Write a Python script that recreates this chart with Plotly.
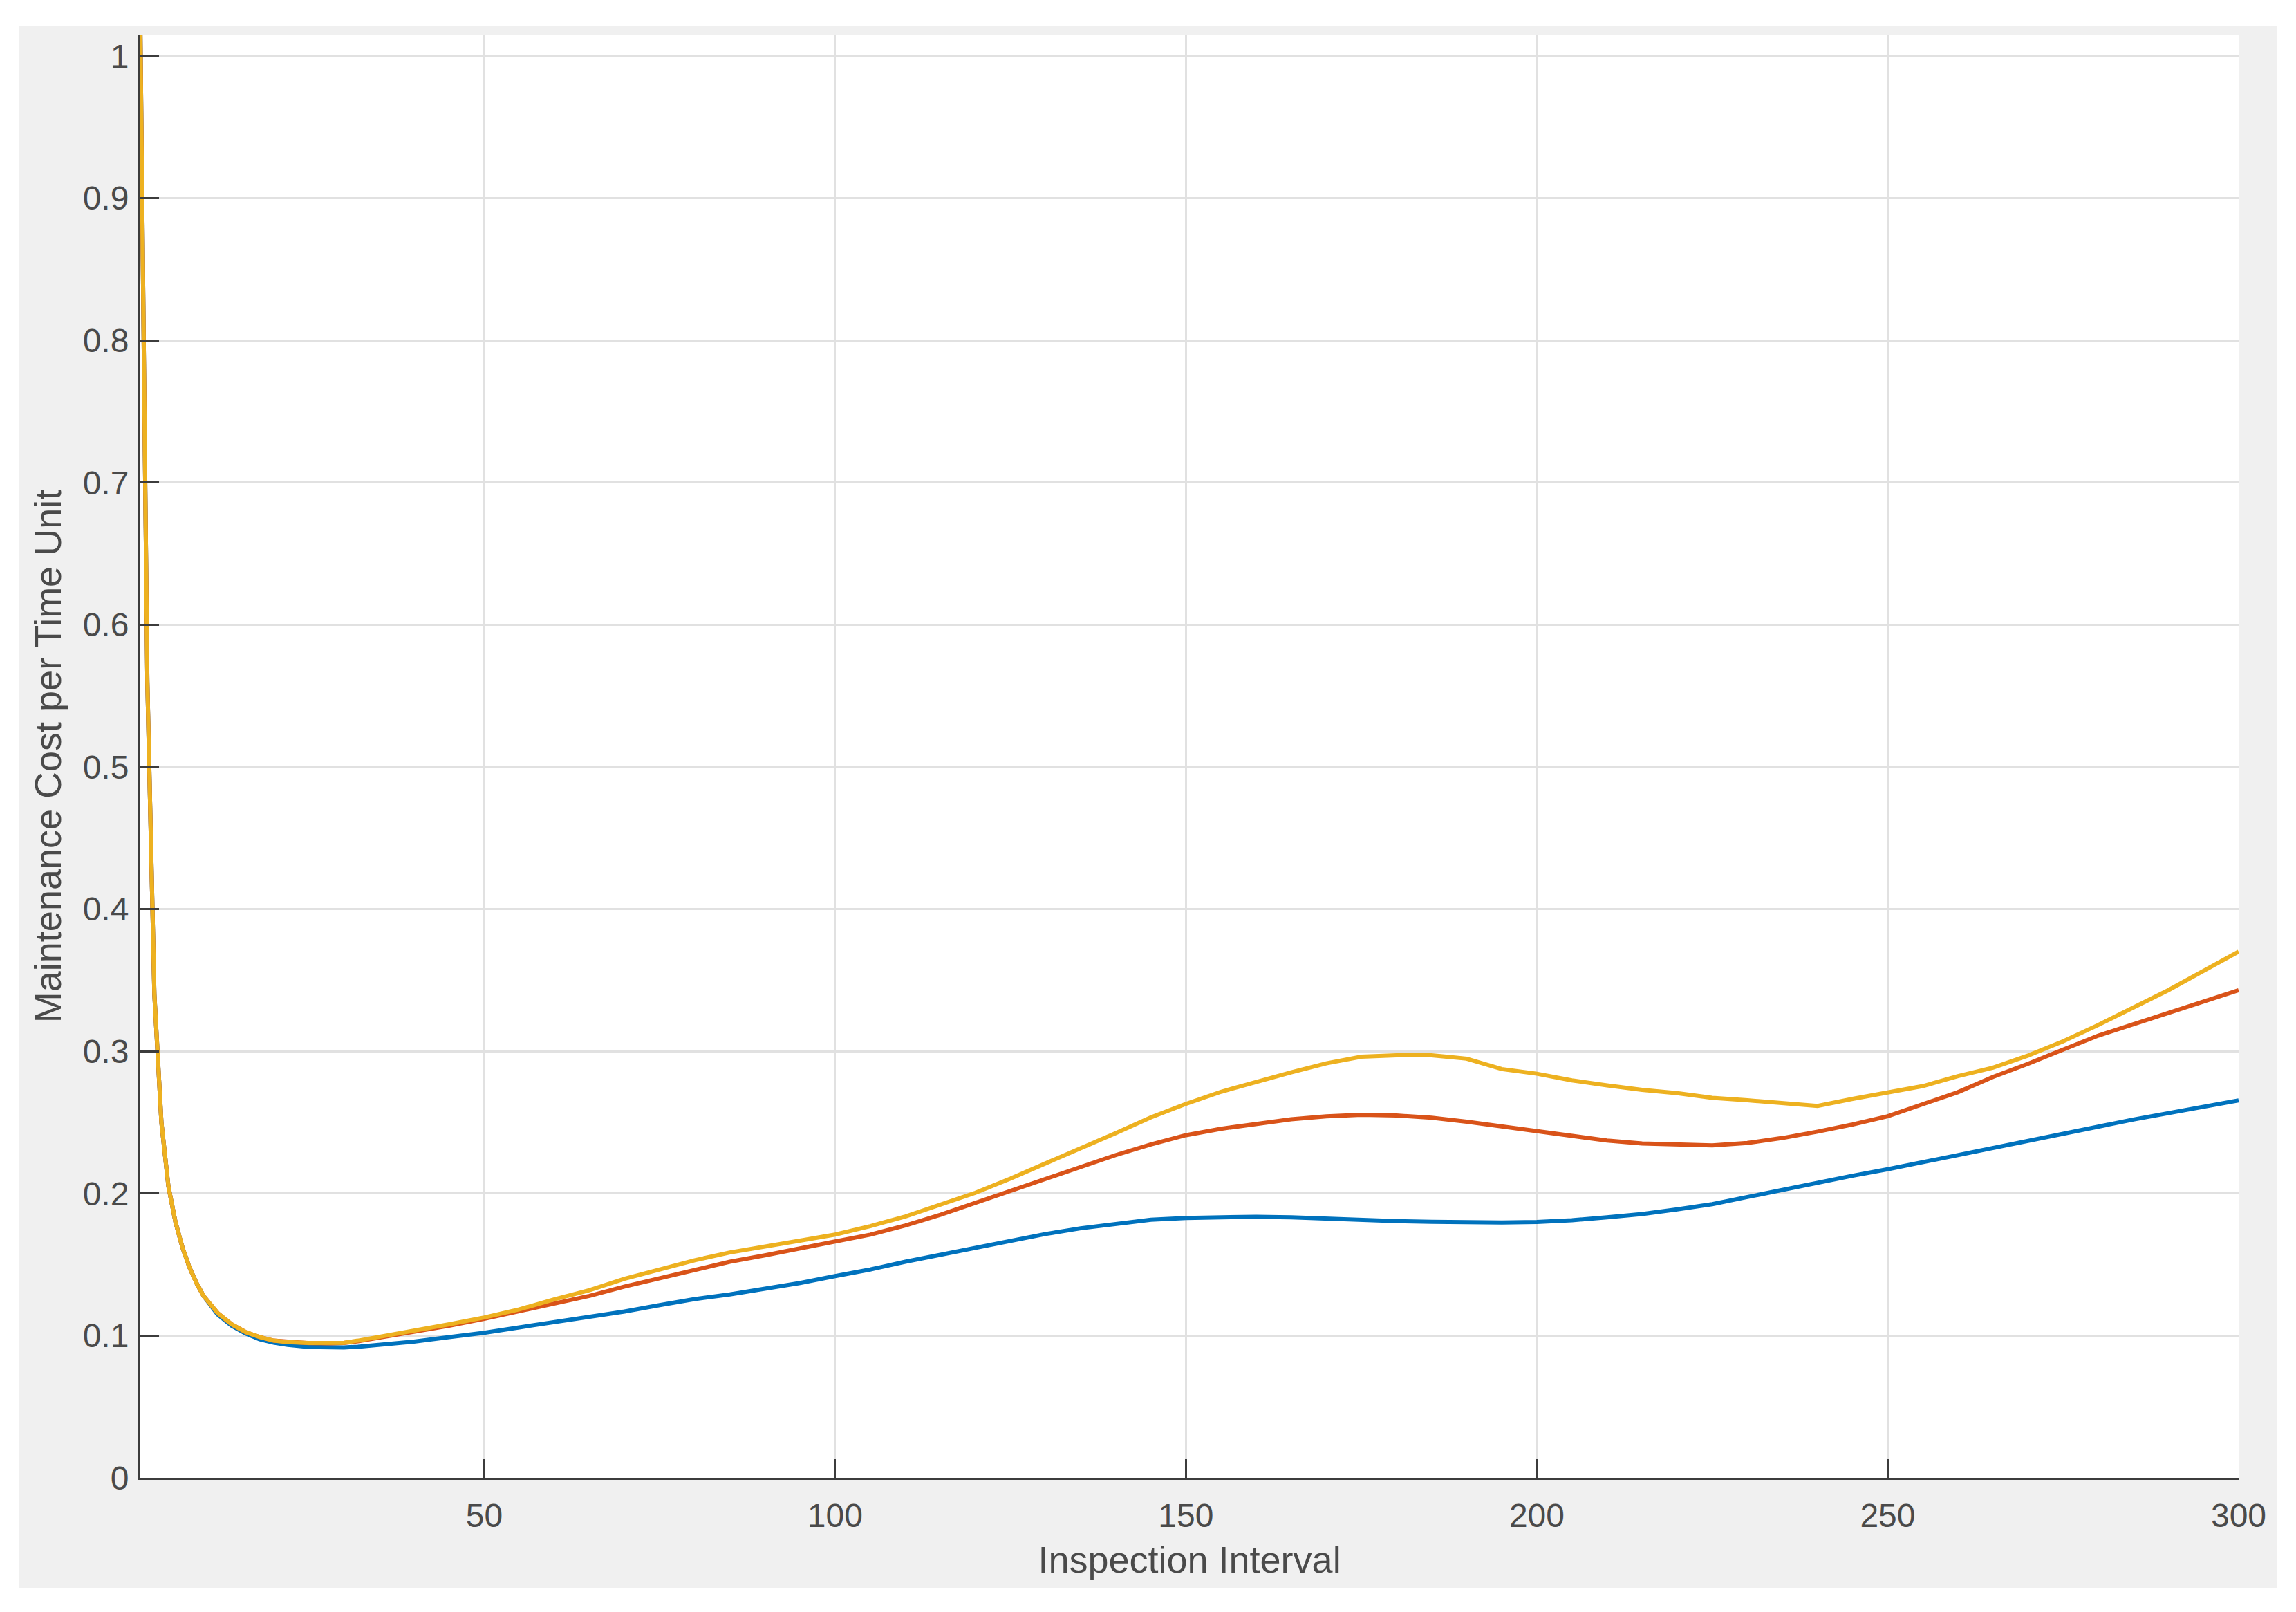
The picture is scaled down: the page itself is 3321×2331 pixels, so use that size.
import plotly.graph_objects as go

# inspection interval values at which the curves were read
interval = [1, 2, 3, 4, 5, 6, 7, 8, 9, 10, 12, 14, 16, 18, 20, 22, 25, 28, 30, 32, 35, 40, 45,
            50, 55, 60, 65, 70, 75, 80, 85, 90, 95, 100, 105, 110, 115, 120, 125, 130, 135, 140,
            145, 150, 155, 160, 165, 170, 175, 180, 185, 190, 195, 200, 205, 210, 215, 220, 225,
            230, 235, 240, 245, 250, 255, 260, 265, 270, 275, 280, 285, 290, 295, 300]

cost_blue = [1.02, 0.56, 0.34, 0.25, 0.205, 0.18, 0.162, 0.148, 0.137, 0.128, 0.115, 0.107,
             0.1015, 0.0975, 0.095, 0.0935, 0.092, 0.0915, 0.0917, 0.0922, 0.0935, 0.0958, 0.099,
             0.102, 0.1058, 0.1095, 0.113, 0.117, 0.1215, 0.1257, 0.129, 0.1328, 0.137, 0.1419,
             0.1465, 0.152, 0.157, 0.162, 0.1668, 0.1715, 0.1755, 0.1788, 0.1815, 0.1828, 0.1835,
             0.1836, 0.1832, 0.1822, 0.1812, 0.1805, 0.1801, 0.1795, 0.1796, 0.18, 0.1812, 0.1832,
             0.1855, 0.1888, 0.1925, 0.1975, 0.2025, 0.208, 0.2125, 0.217, 0.222, 0.2272, 0.2322,
             0.2375, 0.2425, 0.2475, 0.252, 0.2565, 0.261, 0.2655]

cost_red = [1.02, 0.56, 0.34, 0.25, 0.205, 0.18, 0.162, 0.148, 0.137, 0.128, 0.116, 0.108,
            0.1025, 0.099, 0.0965, 0.0955, 0.0947, 0.0946, 0.0948, 0.096, 0.0985, 0.1025, 0.107,
            0.1118, 0.117, 0.1225, 0.128, 0.1345, 0.1405, 0.1465, 0.152, 0.1565, 0.161, 0.1662,
            0.171, 0.1775, 0.185, 0.1935, 0.2015, 0.21, 0.219, 0.227, 0.2345, 0.241, 0.2455,
            0.249, 0.2522, 0.2542, 0.2553, 0.2548, 0.2533, 0.2505, 0.2472, 0.2441, 0.2403, 0.2372,
            0.2352, 0.2342, 0.2338, 0.2355, 0.239, 0.2435, 0.2485, 0.2543, 0.2625, 0.2712, 0.282,
            0.2912, 0.3012, 0.311, 0.319, 0.327, 0.335, 0.343]

cost_yellow = [1.02, 0.56, 0.34, 0.25, 0.205, 0.18, 0.162, 0.148, 0.137, 0.128, 0.116, 0.108,
               0.1025, 0.099, 0.0965, 0.0955, 0.0948, 0.0948, 0.095, 0.0965, 0.099, 0.1035, 0.108,
               0.1128, 0.1185, 0.1255, 0.132, 0.14, 0.1465, 0.153, 0.1585, 0.163, 0.1668, 0.1711,
               0.177, 0.1838, 0.192, 0.2005, 0.2105, 0.221, 0.2315, 0.2425, 0.2535, 0.263, 0.2715,
               0.2785, 0.2852, 0.2915, 0.2962, 0.2972, 0.2972, 0.2948, 0.2875, 0.2842, 0.2795,
               0.276, 0.2728, 0.2705, 0.2672, 0.2655, 0.2632, 0.2615, 0.2665, 0.2711, 0.2755,
               0.2825, 0.2885, 0.297, 0.307, 0.3185, 0.3305, 0.343, 0.3565, 0.3701]

series = [
    (cost_blue, '#0072BD'),
    (cost_red, '#D95319'),
    (cost_yellow, '#EDB120'),
]

# the page body adds an 8px margin round the figure
OFF = 8
W, H = 3321 - 2 * OFF, 2331 - 2 * OFF
# plot area in page pixels
L, R, T, B = 203 - OFF, 3238 - OFF, 50 - OFF, 2137 - OFF
# grey panel in page pixels
GL, GR, GT, GB = 28 - OFF, 3293 - OFF, 37 - OFF, 2297 - OFF

font_family = 'Liberation Sans, Arial, Helvetica, sans-serif'
text_color = '#4a4a4a'

fig = go.Figure()

for values, color in series:
    fig.add_trace(
        go.Scatter(
            x=interval,
            y=values,
            mode='lines',
            line={'color': color, 'width': 6},
            showlegend=False
        )
    )

pw, ph = R - L, B - T
fig.add_shape(type='rect', xref='paper', yref='paper', layer='below',
              x0=(GL - L) / pw, x1=(GR - L) / pw,
              y0=(B - GB) / ph, y1=(B - GT) / ph,
              fillcolor='#f0f0f0', line={'width': 0})
fig.add_shape(type='rect', xref='paper', yref='paper', layer='below',
              x0=0, x1=1, y0=0, y1=1,
              fillcolor='white', line={'width': 0})

axis_common = dict(
    showline=True,
    linecolor='#3c3c3c',
    linewidth=3,
    ticks='inside',
    ticklen=27,
    tickwidth=3,
    tickcolor='#3c3c3c',
    showgrid=True,
    gridcolor='#e1e1e1',
    gridwidth=3,
    zeroline=False,
    tickfont={'family': font_family, 'size': 48, 'color': text_color},
)

fig.update_layout(
    width=W,
    height=H,
    margin={'l': L, 'r': W - R, 't': T, 'b': H - B},
    paper_bgcolor='white',
    plot_bgcolor='white',
    font={'family': font_family, 'color': text_color},
    xaxis=dict(
        axis_common,
        range=[1, 300],
        tick0=0,
        dtick=50,
        ticklabelstandoff=10,
        title={'text': 'Inspection Interval', 'standoff': 20,
               'font': {'family': font_family, 'size': 54, 'color': text_color}},
    ),
    yaxis=dict(
        axis_common,
        range=[0, 1.015],
        tick0=0,
        dtick=0.1,
        ticklabelstandoff=4,
        title={'text': 'Maintenance Cost per Time Unit', 'standoff': 14,
               'font': {'family': font_family, 'size': 54, 'color': text_color}},
    ),
)

fig.write_html('out.html')
